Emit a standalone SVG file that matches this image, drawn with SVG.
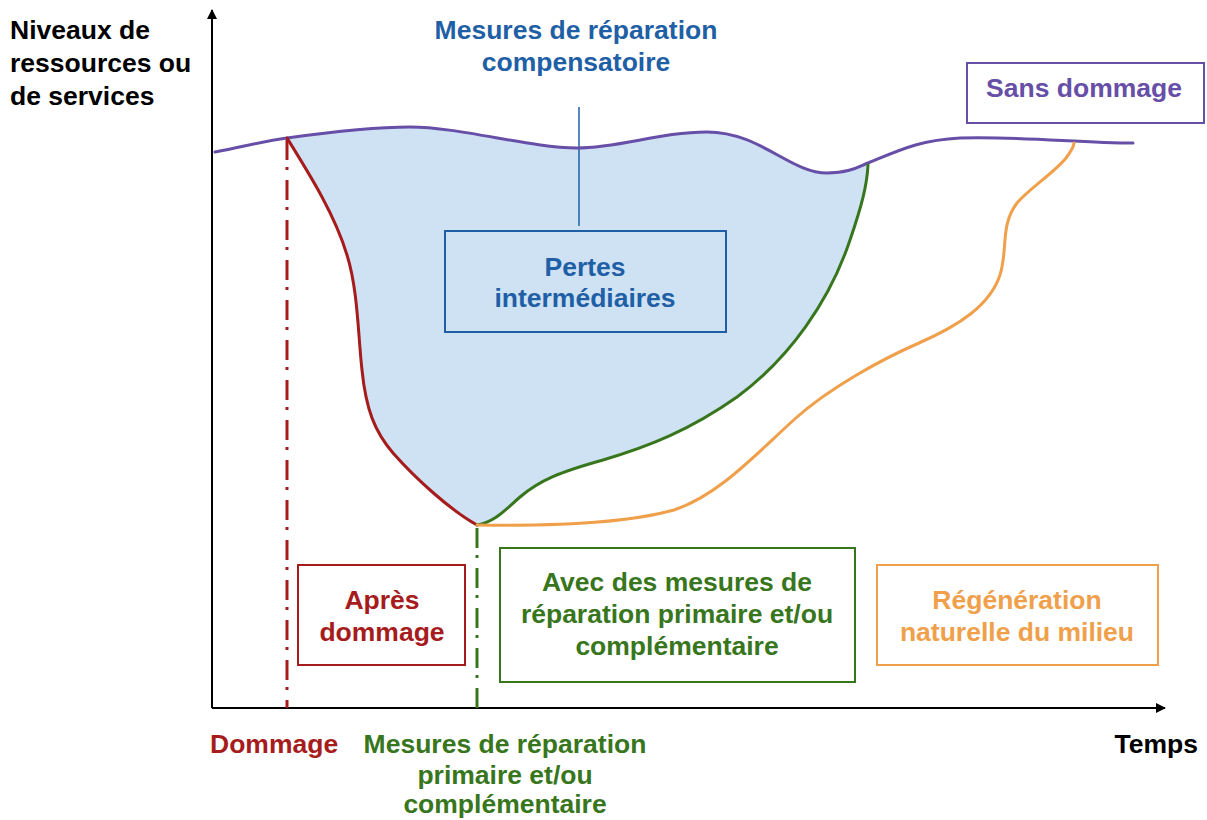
<svg xmlns="http://www.w3.org/2000/svg" width="1207" height="820" viewBox="0 0 1207 820">
<defs>
<style>
text{font-family:"Liberation Sans",Arial,sans-serif;font-weight:bold;font-size:26.5px}
.c{text-anchor:middle}
.blk{fill:#000}
.red{fill:#a61c1c}
.blue{fill:#1f5fa6}
.grn{fill:#38761d}
.org{fill:#f0a04b}
.pur{fill:#674ea7}
.box{fill:none;stroke-width:2}
.curve{fill:none;stroke-width:3;stroke-linecap:round}
</style>
<marker id="ah" viewBox="0 0 10 10" refX="9" refY="5" markerWidth="5" markerHeight="5" orient="auto" markerUnits="strokeWidth">
<path d="M0,0 L10,5 L0,10 z" fill="#000"/>
</marker>
</defs>
<rect width="1207" height="820" fill="#fff"/>

<g id="area">
<path d="M287,138 C330,132 370,127 410,127 C460,127 530,148 577,148 C620,148 660,132 707,132 C760,132 790,173 827,173 C845,173 858,167 868,163 C867,185 862,205 850,240 C830,300 790,358 737,397 C690,430 650,446 603,460 C560,472 540,480 520,497 C505,510 495,522 477,525 C450,510 415,478 393,453 C375,432 366,410 362,370 C358,335 358,290 347,255 C335,215 310,175 287,138 Z" fill="#cfe2f3"/>
</g>

<g id="axes">
<line x1="212" y1="708" x2="212" y2="10" stroke="#000" stroke-width="2" marker-end="url(#ah)"/>
<line x1="212" y1="708" x2="1165" y2="708" stroke="#000" stroke-width="2" marker-end="url(#ah)"/>
</g>

<g id="connectors">
<line x1="287" y1="140" x2="287" y2="708" stroke="#a61c1c" stroke-width="3" stroke-dasharray="20,7,3,10"/>
<line x1="477" y1="528" x2="477" y2="708" stroke="#38761d" stroke-width="3" stroke-dasharray="20,7,3,10"/>
<line x1="579" y1="107" x2="579" y2="226" stroke="#1f5fa6" stroke-width="1.5"/>
<path class="curve" stroke="#674ea7" d="M215,152 C250,145 265,141 287,138 C330,132 370,127 410,127 C460,127 530,148 577,148 C620,148 660,132 707,132 C760,132 790,173 827,173 C850,173 860,166 868,163 C900,150 920,140 960,138 C1020,136 1080,143 1133,143"/>
<path class="curve" stroke="#a61c1c" d="M287,138 C310,175 335,215 347,255 C358,290 358,335 362,370 C366,410 375,432 393,453 C415,478 450,510 477,525"/>
<path class="curve" stroke="#38761d" d="M477,525 C495,522 505,510 520,497 C540,480 560,472 603,460 C650,446 690,430 737,397 C790,358 830,300 850,240 C862,205 867,185 868,165"/>
<path class="curve" stroke="#f0a04b" d="M477,525 C540,526 620,525 674,510 C720,495 760,450 797,417 C830,388 880,360 919,343 C960,325 990,305 1000,275 C1008,250 1000,225 1017,203 C1030,188 1055,172 1066,158 C1072,150 1074,146 1074,143"/>
</g>

<g id="yaxis-label">
<text class="blk" x="10" y="39">Niveaux de</text>
<text class="blk" x="10" y="72">ressources ou</text>
<text class="blk" x="10" y="105">de services</text>
</g>

<g id="compensatoire">
<text class="blue c" x="576" y="39">Mesures de réparation</text>
<text class="blue c" x="576" y="71">compensatoire</text>
</g>

<g id="pertes">
<rect class="box" x="445" y="231" width="281" height="101" stroke="#1f5fa6"/>
<text class="blue c" x="585" y="276">Pertes</text>
<text class="blue c" x="585" y="307">intermédiaires</text>
</g>

<g id="sans-dommage">
<rect class="box" x="967" y="63" width="237" height="60" stroke="#674ea7"/>
<text class="pur c" x="1084" y="97">Sans dommage</text>
</g>

<g id="apres-dommage">
<rect class="box" x="298" y="565" width="167" height="100" stroke="#a61c1c"/>
<text class="red c" x="382" y="609">Après</text>
<text class="red c" x="382" y="641">dommage</text>
</g>

<g id="avec-mesures">
<rect class="box" x="500" y="548" width="355" height="134" stroke="#38761d"/>
<text class="grn c" x="677" y="591">Avec des mesures de</text>
<text class="grn c" x="677" y="623">réparation primaire et/ou</text>
<text class="grn c" x="677" y="655">complémentaire</text>
</g>

<g id="regeneration">
<rect class="box" x="877" y="565" width="281" height="100" stroke="#f0a04b"/>
<text class="org c" x="1017" y="609">Régénération</text>
<text class="org c" x="1017" y="641">naturelle du milieu</text>
</g>

<g id="dommage-label">
<text class="red" x="210" y="753">Dommage</text>
</g>

<g id="mesures-primaire-label">
<text class="grn c" x="505" y="753">Mesures de réparation</text>
<text class="grn c" x="505" y="784">primaire et/ou</text>
<text class="grn c" x="505" y="813">complémentaire</text>
</g>

<g id="temps-label">
<text class="blk" x="1198" y="753" text-anchor="end">Temps</text>
</g>
</svg>
